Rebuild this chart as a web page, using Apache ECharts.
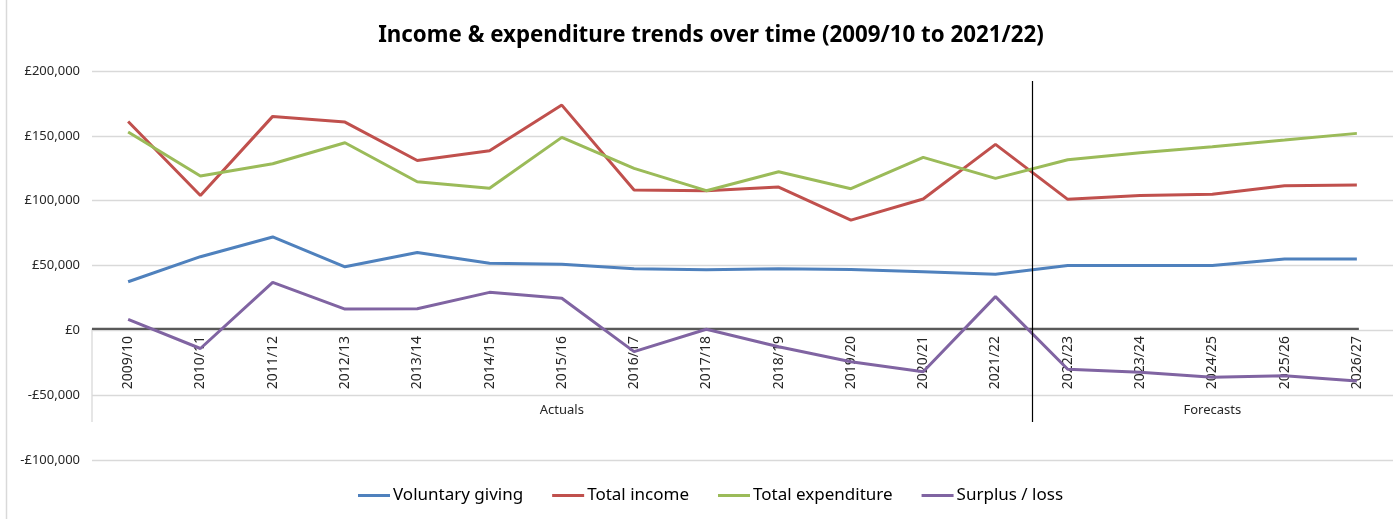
<!DOCTYPE html>
<html><head><meta charset="utf-8">
<script src="https://cdn.jsdelivr.net/npm/echarts@6/dist/echarts.min.js"></script>
<style>html,body{margin:0;padding:0;background:#fff}#c{width:1393px;height:519px}</style>
</head><body><div id="c"></div>
<script>
const categories = ['2009/10','2010/11','2011/12','2012/13','2013/14','2014/15','2015/16','2016/17','2017/18','2018/19','2019/20','2020/21','2021/22','2022/23','2023/24','2024/25','2025/26','2026/27'];
const voluntaryGiving = [37500,56800,72000,49000,60000,51700,50900,47500,46800,47500,47000,45200,43200,50000,50000,50000,55000,55000];
const totalIncome = [161000,104000,165000,160600,131000,138500,173700,108200,107700,110500,85000,101300,143400,101000,104000,104900,111500,112000];
const totalExpenditure = [153000,119000,128500,144700,114600,109500,148800,124900,107700,122300,109200,133400,117200,131600,137000,141600,146700,151900];
const surplusLoss = [8500,-14000,37000,16400,16700,29300,24700,-16400,800,-12600,-24200,-31900,26000,-30000,-32400,-36200,-35000,-39000];
const yMin = -100000, yMax = 200000, yInterval = 50000;
const groups = [{name:'Actuals', from:'2009/10', to:'2021/22'},{name:'Forecasts', from:'2022/23', to:'2026/27'}];
const seriesNames = ['Voluntary giving','Total income','Total expenditure','Surplus / loss'];
const colors = ['#4F81BD','#C0504D','#9BBB59','#8064A2'];

const chart = echarts.init(document.getElementById('c'));
const fmt = v => (v < 0 ? '-£' : '£') + Math.abs(v).toLocaleString('en-GB');
const mk = (name, data, color) => ({
  name, type:'line', data, symbol:'none', lineStyle:{width:3, color}, itemStyle:{color}, z:3
});
chart.setOption({
  animation:false,
  textStyle:{fontFamily:'Noto Sans'},
  title:{text:'Income & expenditure trends over time (2009/10 to 2021/22)', left:706, textAlign:'center', top:20,
    textStyle:{fontFamily:'Noto Sans', fontWeight:'bold', fontSize:22.3, color:'#000'}},
  legend:{left:353, top:482, icon:'rect', itemWidth:32, itemHeight:3, itemGap:29,
    textStyle:{fontFamily:'Noto Sans', fontSize:17, color:'#000', padding:[0,0,0,-2]}, data:seriesNames},
  grid:{left:92, right:0, top:71, bottom:59, containLabel:false},
  xAxis:{type:'category', data:categories, boundaryGap:true, position:'bottom', offset:0,
    axisLine:{show:false}, axisTick:{show:false},
    axisLabel:{rotate:90, margin:5, fontSize:14, color:'#262626', interval:0}},
  yAxis:{type:'value', min:yMin, max:yMax, interval:yInterval,
    axisLine:{show:false}, axisTick:{show:false},
    splitLine:{lineStyle:{color:'#D9D9D9', width:1.3}},
    axisLabel:{formatter:fmt, fontSize:13, color:'#262626', margin:12}},
  series:[mk(seriesNames[0],voluntaryGiving,colors[0]), mk(seriesNames[1],totalIncome,colors[1]),
          mk(seriesNames[2],totalExpenditure,colors[2]), mk(seriesNames[3],surplusLoss,colors[3])]
});

const px = c => chart.convertToPixel({xAxisIndex:0}, c);
const band = px(categories[1]) - px(categories[0]);
const zeroY = chart.convertToPixel({yAxisIndex:0}, 0);
const bottomY = chart.convertToPixel({yAxisIndex:0}, yMin);
const startX = px(categories[0]) - band/2;
const sepX = Math.round((px('2021/22') + px('2022/23'))/2) + 0.5;
const g = [];
g.push({type:'line', shape:{x1:6.5,y1:0,x2:6.5,y2:519}, style:{stroke:'#D9D9D9', lineWidth:1.5}, z:1});
g.push({type:'line', shape:{x1:startX,y1:zeroY,x2:startX,y2:422}, style:{stroke:'#D9D9D9', lineWidth:1.3}, z:1});
g.push({type:'line', shape:{x1:startX,y1:zeroY,x2:px(categories[categories.length-1])+2,y2:zeroY}, style:{stroke:'#595959', lineWidth:2.2}, z:2});
g.push({type:'line', shape:{x1:sepX,y1:81,x2:sepX,y2:422}, style:{stroke:'#000', lineWidth:1.2}, z:5});
groups.forEach(gr => {
  const a = px(gr.from) - band/2, b = px(gr.to) + band/2;
  g.push({type:'text', x:(a+b)/2, y:410, style:{text:gr.name, fontFamily:'Noto Sans', fontSize:13, fill:'#262626', align:'center', verticalAlign:'middle'}, z:5});
});
chart.setOption({graphic:g, xAxis:{offset:-(bottomY - zeroY)}});
</script></body></html>
